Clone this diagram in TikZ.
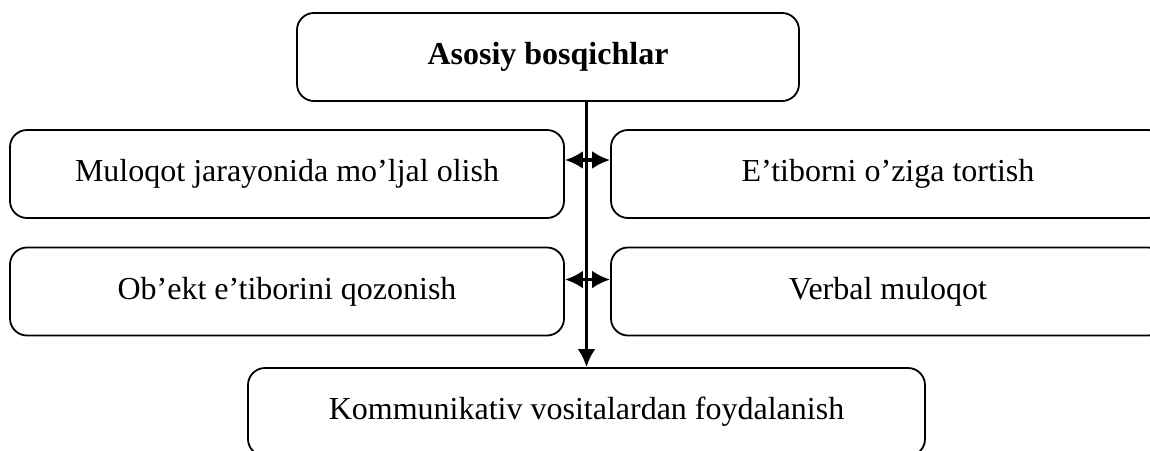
\documentclass[tikz,border=0pt]{standalone}
\usepackage{fontspec}
\setmainfont{Liberation Serif}
\usetikzlibrary{arrows.meta}
\begin{document}
\begin{tikzpicture}[x=0.5pt,y=-0.5pt,
                  box/.style={draw,line width=0.9pt,rounded corners=8.5pt,minimum width=277pt,minimum height=44pt,font=\fontsize{16}{19}\selectfont},
                  tip/.style={line width=1.8pt,{Latex[length=9pt,width=9pt]}-{Latex[length=9pt,width=9pt]}}]
                  \useasboundingbox (0,0) rectangle (1150,450);
                  \node[box,minimum width=251pt,font=\fontsize{16}{19}\selectfont\bfseries] (top) at (548,57) {Asosiy bosqichlar};
                  \node[box] (l1) at (287,174) {Muloqot jarayonida mo’ljal olish};
                  \node[box] (r1) at (888,174) {E’tiborni o’ziga tortish\hspace{13pt}};
                  \node[box] (l2) at (287,291.5) {Ob’ekt e’tiborini qozonish};
                  \node[box] (r2) at (888,291.5) {Verbal muloqot\hspace{13pt}};
                  \node[box,minimum width=338.5pt] (bot) at (586.5,412) {Kommunikativ vositalardan foydalanish};
                  \draw[line width=1.8pt,-{Latex[length=9pt,width=9pt]}] (bot.north |- top.south) -- (bot.north);
                  \draw[tip] ([yshift=7pt]l1.east) -- ([yshift=7pt]r1.west);
                  \draw[tip] ([yshift=6pt]l2.east) -- ([yshift=6pt]r2.west);
              \end{tikzpicture}
\end{document}
